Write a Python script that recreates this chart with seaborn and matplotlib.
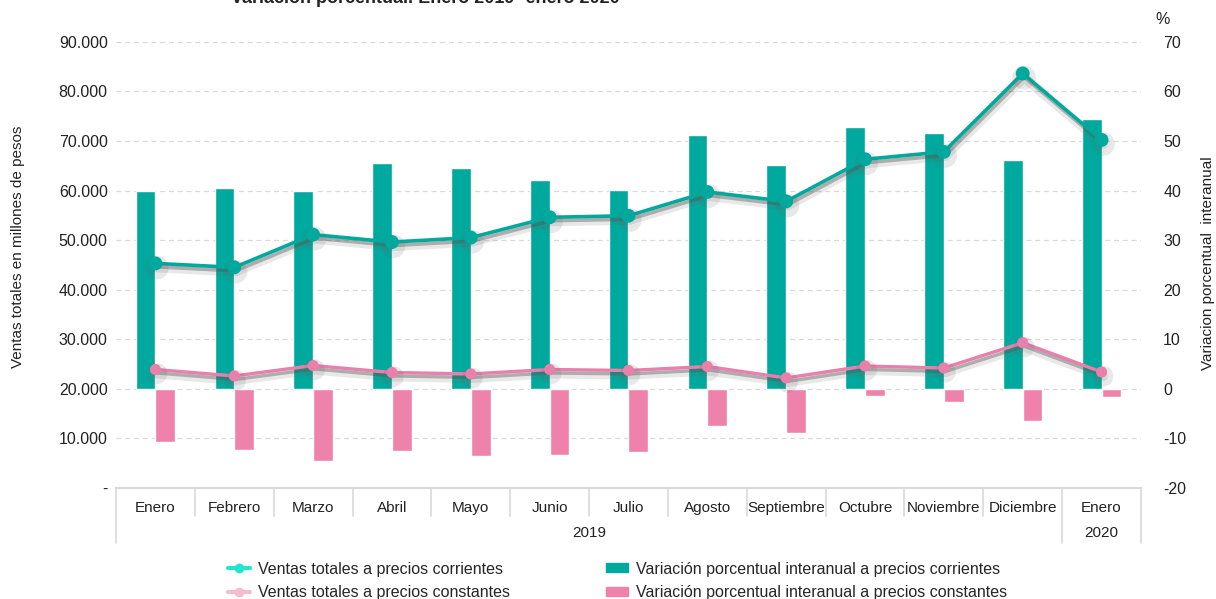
import numpy as np
import pandas as pd
import matplotlib
matplotlib.use("Agg")
import matplotlib.pyplot as plt
import matplotlib.patheffects as pe
import matplotlib.transforms as mtransforms
from matplotlib.lines import Line2D
from matplotlib.patches import Patch
from matplotlib.ticker import FuncFormatter
import seaborn as sns

# Data
meses = ["Enero", "Febrero", "Marzo", "Abril", "Mayo", "Junio", "Julio",
         "Agosto", "Septiembre", "Octubre", "Noviembre", "Diciembre", "Enero"]
anios = ["2019"] * 12 + ["2020"]
ventas_corrientes = [45300, 44500, 51100, 49600, 50500, 54600, 54900,
                     59700, 57800, 66300, 67800, 83600, 70200]
ventas_constantes = [23900, 22600, 24700, 23300, 23000, 23900, 23700,
                     24500, 22200, 24600, 24200, 29300, 23400]
var_corrientes = [39.8, 40.5, 39.9, 45.6, 44.6, 42.1, 40.1,
                  51.1, 45.2, 52.9, 51.5, 46.1, 54.4]
var_constantes = [-10.7, -12.3, -14.6, -12.6, -13.6, -13.4, -12.8,
                  -7.5, -9.0, -1.5, -2.6, -6.5, -1.7]

TEAL = "#00A99D"
PINK = "#EE82AB"
PINK_LINE = "#E97FAB"
GRID = "#d9d9d9"
TXT = "#222222"

sns.set_theme(style="white")
plt.rcParams["font.family"] = ["Liberation Sans", "DejaVu Sans"]
plt.rcParams["font.size"] = 11
plt.rcParams["axes.unicode_minus"] = False

periodo = [f"{m} {a}" for m, a in zip(meses, anios)]
df_var = pd.DataFrame({
    "periodo": periodo * 2,
    "variacion": var_corrientes + var_constantes,
    "serie": ["corrientes"] * len(meses) + ["constantes"] * len(meses),
})

fig = plt.figure(figsize=(12.16, 5.99), dpi=100)
ax_bar = fig.add_axes([0.0954, 0.1853, 0.8429, 0.745])

# Bars: year-on-year variation (right axis)
sns.barplot(data=df_var, x="periodo", y="variacion", hue="serie",
            palette=[TEAL, PINK], width=0.5, saturation=1, legend=False, ax=ax_bar)

# Lines: total sales (left axis)
ax_line = ax_bar.twinx()
x_pos = np.arange(len(meses))
sns.lineplot(x=x_pos, y=ventas_corrientes, ax=ax_line, color=TEAL, lw=2.6,
             marker="o", markersize=10, markeredgewidth=0)
sns.lineplot(x=x_pos, y=ventas_constantes, ax=ax_line, color=PINK_LINE, lw=2.4,
             marker="o", markersize=8, markeredgewidth=0)
shadow = [pe.SimpleLineShadow(offset=(1, -3), shadow_color="#666666", alpha=0.15, linewidth=7),
          pe.SimpleLineShadow(offset=(1, -2.5), shadow_color="#555555", alpha=0.4),
          pe.Normal()]
for ln in ax_line.lines:
    ln.set_path_effects(shadow)

# bar axis on the right
ax_bar.set_ylim(-20, 70)
ax_bar.set_yticks(range(-20, 71, 10))
ax_bar.yaxis.tick_right()
ax_bar.set_xlabel("")
ax_bar.set_ylabel("")
ax_bar.yaxis.grid(True, linestyle=(0, (4, 3)), color=GRID, lw=0.9)
ax_bar.set_axisbelow(True)
ax_bar.tick_params(axis="y", length=0, pad=16, labelsize=11.5, colors=TXT)
ax_bar.set_xticks(range(len(meses)))
ax_bar.set_xticklabels(meses)
ax_bar.tick_params(axis="x", length=0, pad=9, labelsize=11, colors=TXT)
for side in ["top", "left", "right"]:
    ax_bar.spines[side].set_visible(False)
ax_bar.spines["bottom"].set_color(GRID)
ax_bar.spines["bottom"].set_linewidth(1.5)
ax_bar.set_xlim(-0.5, len(meses) - 0.5)

# line axis on the left
ax_line.set_ylim(0, 90000)
ax_line.set_yticks(range(0, 90001, 10000))
ax_line.yaxis.tick_left()
ax_line.yaxis.set_major_formatter(
    FuncFormatter(lambda v, p: "-" if v == 0 else f"{int(v):,}".replace(",", ".")))
ax_line.tick_params(axis="y", length=0, pad=6, labelsize=11.5, colors=TXT)
for side in ["top", "left", "right", "bottom"]:
    ax_line.spines[side].set_visible(False)
ax_line.set_xlim(-0.5, len(meses) - 0.5)

# Category table under the x axis
trans = mtransforms.blended_transform_factory(ax_bar.transData, ax_bar.transAxes)
n = len(meses)
for b in np.arange(-0.5, n, 1.0):
    full = b in (-0.5, n - 1.5, n - 0.5)
    ax_bar.add_line(Line2D([b, b], [0, -0.124 if full else -0.062], transform=trans,
                           color=GRID, lw=1.2, clip_on=False))
ax_bar.text(5.5, -0.10, "2019", transform=trans, ha="center", va="center",
            fontsize=11, color=TXT)
ax_bar.text(12, -0.10, "2020", transform=trans, ha="center", va="center",
            fontsize=11, color=TXT)

# Axis titles and header
fig.text(18 / 1216, 1 - 247 / 599, "Ventas totales en millones de pesos", rotation=90,
         ha="center", va="center", fontsize=11, color=TXT)
fig.text(1208 / 1216, 1 - 263 / 599, "Variacion porcentual  interanual", rotation=90,
         ha="center", va="center", fontsize=11, color=TXT)
fig.text(1163 / 1216, 1 - 20 / 599, "%", ha="center", va="center",
         fontsize=11.5, color=TXT)
fig.text(0.35, 1 - 3 / 599, "Variación porcentual. Enero 2019- enero 2020",
         ha="center", va="baseline", fontsize=13, fontweight="bold", color=TXT)

# Legend
handles = [
    Line2D([], [], color="#22E5D0", lw=3, marker="o", markersize=6),
    Line2D([], [], color="#F5BCD0", lw=3, marker="o", markersize=6),
    Patch(color=TEAL),
    Patch(color=PINK),
]
labels = [
    "Ventas totales a precios corrientes",
    "Ventas totales a precios constantes",
    "Variación porcentual interanual a precios corrientes",
    "Variación porcentual interanual a precios constantes",
]
fig.legend(handles, labels, loc="center", bbox_to_anchor=(0.508, 1 - 581 / 599),
           ncol=2, frameon=False, fontsize=11.5, columnspacing=6.0, handlelength=1.4,
           handleheight=0.5, handletextpad=0.5, labelspacing=0.55)

fig.savefig("out.png", dpi=100)
